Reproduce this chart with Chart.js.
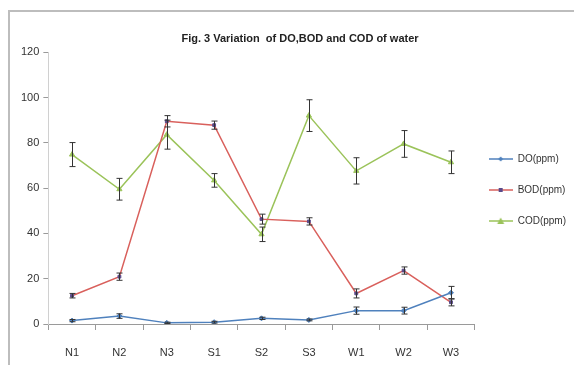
<!DOCTYPE html>
<html>
<head>
<meta charset="utf-8">
<script src="https://cdn.jsdelivr.net/npm/chart.js@4"></script>
<style>
  html, body { margin: 0; padding: 0; background: #fff; overflow: hidden; }
  #wrap { position: relative; width: 574px; height: 365px; }
  #frame { position: absolute; left: 8px; top: 10px; width: 600px; height: 400px;
           border: 2px solid #bdbdbd; box-sizing: border-box; }
  canvas { position: absolute; left: 0; top: 0; }
</style>
</head>
<body>
<div id="wrap">
  <div id="frame"></div>
  <canvas id="chart" width="574" height="365"></canvas>
</div>
<script>
/* data */
const sites   = ['N1','N2','N3','S1','S2','S3','W1','W2','W3'];
const doVals  = [1.5, 3.5, 0.5, 0.8, 2.5, 1.8, 5.9, 5.9, 13.8];
const doErr   = [0.5, 1.0, 0.3, 0.4, 0.5, 0.4, 1.6, 1.5, 2.8];
const bodVals = [12.5, 20.9, 89.5, 87.8, 46.3, 45.3, 13.5, 23.6, 9.6];
const bodErr  = [1.0, 1.6, 2.5, 1.8, 2.2, 1.6, 2.0, 1.6, 1.6];
const codVals = [74.8, 59.5, 83.6, 63.4, 39.6, 92.0, 67.6, 79.5, 71.4];
const codErr  = [5.3, 4.8, 6.4, 3.0, 3.2, 7.0, 5.8, 5.9, 5.0];
const yTicks  = [0, 20, 40, 60, 80, 100, 120];

const FONT = '"Liberation Sans Narrow", "Liberation Sans", sans-serif';
const cols = { DO: '#4f81bd', BOD: '#d9605c', COD: '#9bc35a' };

// legend swatch: short line with the marker on it
function swatch(color, style) {
  const c = document.createElement('canvas');
  c.width = 24; c.height = 8;
  const x = c.getContext('2d');
  x.strokeStyle = color; x.lineWidth = 1.5;
  x.beginPath(); x.moveTo(0, 4); x.lineTo(24, 4); x.stroke();
  x.fillStyle = style === 'rect' ? '#5a4a8a' : color;
  x.beginPath();
  if (style === 'triangle') { x.moveTo(12, 0.5); x.lineTo(15.5, 7); x.lineTo(8.5, 7); }
  else if (style === 'rect') { x.rect(10, 2, 4, 4); }
  else { x.moveTo(12, 1.5); x.lineTo(14.5, 4); x.lineTo(12, 6.5); x.lineTo(9.5, 4); }
  x.fill();
  return c;
}

const errorBars = {
  id: 'errorBars',
  afterDatasetsDraw(chart) {
    const ctx = chart.ctx, ys = chart.scales.y;
    ctx.save();
    ctx.strokeStyle = '#333';
    ctx.lineWidth = 1;
    chart.data.datasets.forEach((ds, di) => {
      const meta = chart.getDatasetMeta(di);
      meta.data.forEach((pt, i) => {
        const e = ds.errors[i];
        const top = ys.getPixelForValue(ds.data[i] + e);
        const bot = ys.getPixelForValue(ds.data[i] - e);
        const x = Math.round(pt.x) + 0.5;
        ctx.beginPath();
        ctx.moveTo(x, top); ctx.lineTo(x, bot);
        ctx.moveTo(x - 3, top); ctx.lineTo(x + 3, top);
        ctx.moveTo(x - 3, bot); ctx.lineTo(x + 3, bot);
        ctx.stroke();
      });
    });
    ctx.restore();
  }
};

// nudge the legend a little left and up, closer to the plot like the original
const legendNudge = {
  id: 'legendNudge',
  afterLayout(chart) {
    const lg = chart.legend;
    lg.left -= 7; lg.right -= 7;
    lg.top -= 6; lg.bottom -= 6;
  }
};

function series(label, data, errors, color, style, radius) {
  return {
    label, data, errors,
    borderColor: color, backgroundColor: color,
    borderWidth: 1.5, tension: 0,
    pointStyle: style, pointRadius: radius,
    pointBackgroundColor: style === 'rect' ? '#5a4a8a' : color,
    pointBorderColor: style === 'rect' ? '#5a4a8a' : color,
    pointBorderWidth: 1,
    legendSwatch: swatch(color, style)
  };
}

new Chart(document.getElementById('chart'), {
  type: 'line',
  data: {
    labels: sites,
    datasets: [
      series('DO(ppm)',  doVals,  doErr,  cols.DO,  'rectRot', 2.5),
      series('BOD(ppm)', bodVals, bodErr, cols.BOD, 'rect', 2),
      series('COD(ppm)', codVals, codErr, cols.COD, 'triangle', 3)
    ]
  },
  options: {
    responsive: false,
    animation: false,
    layout: { padding: { left: 17, top: 32, right: -9, bottom: 5 } },
    plugins: {
      title: {
        display: true,
        text: 'Fig. 3 Variation  of DO,BOD and COD of water',
        color: '#222',
        font: { family: FONT, size: 11, weight: 'bold' },
        padding: { top: 0, bottom: 7 }
      },
      legend: {
        position: 'right',
        labels: {
          color: '#333',
          font: { family: FONT, size: 10 },
          usePointStyle: true,
          pointStyleWidth: 24,
          padding: 21,
          generateLabels(chart) {
            return chart.data.datasets.map((ds, i) => ({
              text: ds.label, pointStyle: ds.legendSwatch,
              fontColor: '#333', strokeStyle: ds.borderColor,
              lineWidth: 0, hidden: false, datasetIndex: i
            }));
          }
        }
      },
      tooltip: { enabled: false }
    },
    scales: {
      x: {
        offset: true,
        afterFit(scale) { scale.height = 36; },
        grid: { offset: true, drawOnChartArea: false, drawTicks: true, tickLength: 6, color: '#9a9a9a' },
        border: { color: '#9a9a9a' },
        ticks: { color: '#333', font: { family: FONT, size: 11 }, padding: 16 }
      },
      y: {
        min: 0, max: 120,
        afterBuildTicks(scale) { scale.ticks = yTicks.map(v => ({ value: v })); },
        grid: { drawOnChartArea: false, drawTicks: true, tickLength: 5, color: '#9a9a9a' },
        border: { color: '#d0d0d0' },
        ticks: { color: '#333', font: { family: FONT, size: 11 }, padding: 4 }
      }
    }
  },
  plugins: [errorBars, legendNudge]
});
</script>
</body>
</html>
